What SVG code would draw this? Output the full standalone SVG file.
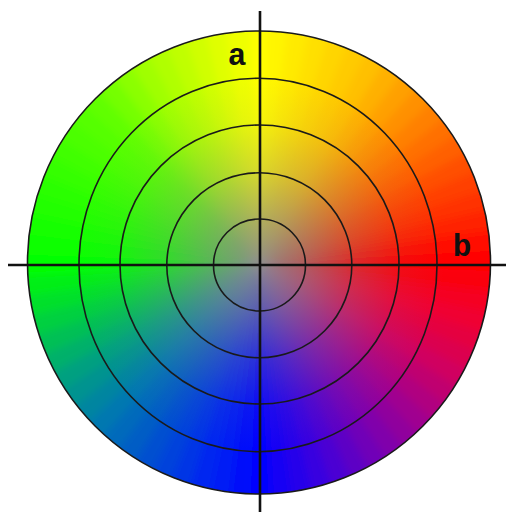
<svg xmlns="http://www.w3.org/2000/svg" xmlns:xlink="http://www.w3.org/1999/xlink" width="507" height="515" viewBox="0 0 507 515">
<style>
.ring{fill:none;stroke:#1a1a1a;stroke-width:1.6}
.axis{stroke:#111;stroke-width:2.6;fill:none}
.lbl{font-family:"Liberation Mono","DejaVu Sans Mono",monospace;font-weight:bold;font-size:31px;fill:#111;text-anchor:middle}
</style>
<defs>
<path id="w" d="M0 0 L-13.6 -259.6 L13.6 -259.6 Z"/>
<clipPath id="disc"><circle cx="259" cy="262.5" r="231.5"/></clipPath>
<filter id="soft" filterUnits="userSpaceOnUse" x="0" y="0" width="507" height="515"><feGaussianBlur stdDeviation="4"/></filter>
<radialGradient id="gray" gradientUnits="userSpaceOnUse" cx="259" cy="264" r="232">
<stop offset="0" stop-color="#8a8a8a" stop-opacity="0.95"/>
<stop offset="0.2" stop-color="#8a8a8a" stop-opacity="0.65"/>
<stop offset="0.4" stop-color="#8a8a8a" stop-opacity="0.32"/>
<stop offset="0.62" stop-color="#8a8a8a" stop-opacity="0.08"/>
<stop offset="0.8" stop-color="#8a8a8a" stop-opacity="0"/>
</radialGradient>
</defs>
<g id="wheel" clip-path="url(#disc)">
<g filter="url(#soft)">
<g transform="translate(259 263)">
<use xlink:href="#w" transform="rotate(0)" fill="#ffff00"/>
<use xlink:href="#w" transform="rotate(5)" fill="#fff500"/>
<use xlink:href="#w" transform="rotate(10)" fill="#ffea00"/>
<use xlink:href="#w" transform="rotate(15)" fill="#ffe000"/>
<use xlink:href="#w" transform="rotate(20)" fill="#ffd500"/>
<use xlink:href="#w" transform="rotate(25)" fill="#ffcb00"/>
<use xlink:href="#w" transform="rotate(30)" fill="#ffc000"/>
<use xlink:href="#w" transform="rotate(35)" fill="#ffb000"/>
<use xlink:href="#w" transform="rotate(40)" fill="#ffa000"/>
<use xlink:href="#w" transform="rotate(45)" fill="#ff9000"/>
<use xlink:href="#w" transform="rotate(50)" fill="#ff8000"/>
<use xlink:href="#w" transform="rotate(55)" fill="#ff7000"/>
<use xlink:href="#w" transform="rotate(60)" fill="#ff6000"/>
<use xlink:href="#w" transform="rotate(65)" fill="#ff5000"/>
<use xlink:href="#w" transform="rotate(70)" fill="#ff4000"/>
<use xlink:href="#w" transform="rotate(75)" fill="#ff3000"/>
<use xlink:href="#w" transform="rotate(80)" fill="#ff2000"/>
<use xlink:href="#w" transform="rotate(85)" fill="#ff1000"/>
<use xlink:href="#w" transform="rotate(90)" fill="#ff0000"/>
<use xlink:href="#w" transform="rotate(95)" fill="#fa0010"/>
<use xlink:href="#w" transform="rotate(100)" fill="#f50020"/>
<use xlink:href="#w" transform="rotate(105)" fill="#f00030"/>
<use xlink:href="#w" transform="rotate(110)" fill="#e50040"/>
<use xlink:href="#w" transform="rotate(115)" fill="#db0050"/>
<use xlink:href="#w" transform="rotate(120)" fill="#d00060"/>
<use xlink:href="#w" transform="rotate(125)" fill="#c00070"/>
<use xlink:href="#w" transform="rotate(130)" fill="#b00080"/>
<use xlink:href="#w" transform="rotate(135)" fill="#a00090"/>
<use xlink:href="#w" transform="rotate(140)" fill="#90009d"/>
<use xlink:href="#w" transform="rotate(145)" fill="#8000ab"/>
<use xlink:href="#w" transform="rotate(150)" fill="#7000b8"/>
<use xlink:href="#w" transform="rotate(155)" fill="#5d00c5"/>
<use xlink:href="#w" transform="rotate(160)" fill="#4b00d3"/>
<use xlink:href="#w" transform="rotate(165)" fill="#3800e0"/>
<use xlink:href="#w" transform="rotate(170)" fill="#2500ea"/>
<use xlink:href="#w" transform="rotate(175)" fill="#1300f4"/>
<use xlink:href="#w" transform="rotate(180)" fill="#0000ff"/>
<use xlink:href="#w" transform="rotate(185)" fill="#000dfa"/>
<use xlink:href="#w" transform="rotate(190)" fill="#001bf5"/>
<use xlink:href="#w" transform="rotate(195)" fill="#0028f0"/>
<use xlink:href="#w" transform="rotate(200)" fill="#0035e5"/>
<use xlink:href="#w" transform="rotate(205)" fill="#0043db"/>
<use xlink:href="#w" transform="rotate(210)" fill="#0050d0"/>
<use xlink:href="#w" transform="rotate(215)" fill="#005dc5"/>
<use xlink:href="#w" transform="rotate(220)" fill="#006bbb"/>
<use xlink:href="#w" transform="rotate(225)" fill="#0078b0"/>
<use xlink:href="#w" transform="rotate(230)" fill="#0085a0"/>
<use xlink:href="#w" transform="rotate(235)" fill="#009390"/>
<use xlink:href="#w" transform="rotate(240)" fill="#00a080"/>
<use xlink:href="#w" transform="rotate(245)" fill="#00b06b"/>
<use xlink:href="#w" transform="rotate(250)" fill="#00c055"/>
<use xlink:href="#w" transform="rotate(255)" fill="#00d040"/>
<use xlink:href="#w" transform="rotate(260)" fill="#00e02b"/>
<use xlink:href="#w" transform="rotate(265)" fill="#00ef15"/>
<use xlink:href="#w" transform="rotate(270)" fill="#00ff00"/>
<use xlink:href="#w" transform="rotate(275)" fill="#0bff00"/>
<use xlink:href="#w" transform="rotate(280)" fill="#15ff00"/>
<use xlink:href="#w" transform="rotate(285)" fill="#20ff00"/>
<use xlink:href="#w" transform="rotate(290)" fill="#2bff00"/>
<use xlink:href="#w" transform="rotate(295)" fill="#35ff00"/>
<use xlink:href="#w" transform="rotate(300)" fill="#40ff00"/>
<use xlink:href="#w" transform="rotate(305)" fill="#4bff00"/>
<use xlink:href="#w" transform="rotate(310)" fill="#55ff00"/>
<use xlink:href="#w" transform="rotate(315)" fill="#60ff00"/>
<use xlink:href="#w" transform="rotate(320)" fill="#75ff00"/>
<use xlink:href="#w" transform="rotate(325)" fill="#8bff00"/>
<use xlink:href="#w" transform="rotate(330)" fill="#a0ff00"/>
<use xlink:href="#w" transform="rotate(335)" fill="#b0ff00"/>
<use xlink:href="#w" transform="rotate(340)" fill="#c0ff00"/>
<use xlink:href="#w" transform="rotate(345)" fill="#d0ff00"/>
<use xlink:href="#w" transform="rotate(350)" fill="#e0ff00"/>
<use xlink:href="#w" transform="rotate(355)" fill="#efff00"/>
</g>
</g>
<circle cx="259" cy="264" r="232" fill="url(#gray)"/>
</g>
<g id="rings">
<circle class="ring" cx="259.5" cy="265" r="46"/>
<circle class="ring" cx="259.3" cy="265.3" r="92.5"/>
<circle class="ring" cx="259.5" cy="264.5" r="139.5"/>
<ellipse class="ring" cx="258" cy="265" rx="179" ry="186.7"/>
<circle class="ring" cx="259" cy="262.5" r="231.5"/>
</g>
<g id="axes">
<line class="axis" x1="260" y1="11" x2="260" y2="512"/>
<line class="axis" x1="8" y1="265" x2="506" y2="265"/>
</g>
<g id="labels">
<text class="lbl" x="237" y="65">a</text>
<text class="lbl" x="462" y="256">b</text>
</g>
</svg>
